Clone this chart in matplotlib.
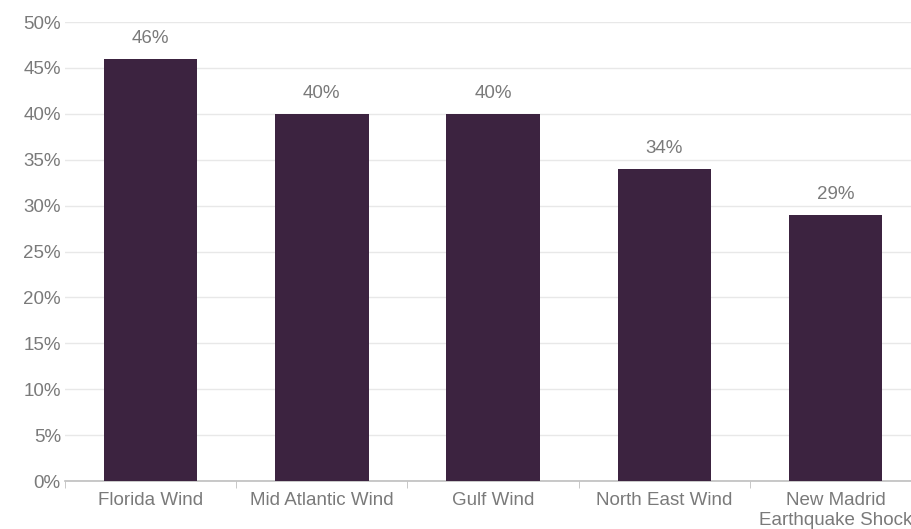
import matplotlib.pyplot as plt
import numpy as np

# Data
categories = ["Florida Wind", "Mid Atlantic Wind", "Gulf Wind", "North East Wind",
              "New Madrid\nEarthquake Shock"]
values = [0.46, 0.40, 0.40, 0.34, 0.29]
value_labels = ["46%", "40%", "40%", "34%", "29%"]
yticks = [0, 0.05, 0.10, 0.15, 0.20, 0.25, 0.30, 0.35, 0.40, 0.45, 0.50]

plt.rcParams['font.family'] = ['Liberation Sans', 'DejaVu Sans']
txt_color = '#7a7a7a'
fs = 13.5

fig = plt.figure(figsize=(9.12, 5.29), dpi=100)
ax = fig.add_axes([0.0713, 0.0907, 0.9387, 0.8677])

x = np.arange(len(categories))
ax.bar(x, values, width=0.545, color='#3c2340', zorder=3)

for xi, v, lab in zip(x, values, value_labels):
    ax.text(xi, v + 0.013, lab, ha='center', va='bottom', fontsize=fs, color=txt_color)

ax.set_xlim(-0.5, len(categories) - 0.5)
ax.set_ylim(0, 0.5)
ax.set_yticks(yticks)
ax.set_yticklabels([f"{int(round(t*100))}%" for t in yticks], fontsize=fs, color=txt_color)
ax.yaxis.grid(True, color='#e8e8e8', linewidth=1, zorder=0)
ax.tick_params(axis='y', length=0, pad=3)

ax.set_xticks(x)
ax.set_xticklabels(categories, fontsize=fs, color=txt_color, linespacing=1.25)
ax.set_xticks(np.arange(-0.5, len(categories), 1), minor=True)
ax.tick_params(axis='x', which='major', length=0, pad=8)
ax.tick_params(axis='x', which='minor', length=5, color='#bfbfbf', direction='out')

for s in ['top', 'right', 'left']:
    ax.spines[s].set_visible(False)
ax.spines['bottom'].set_color('#bfbfbf')
ax.spines['bottom'].set_linewidth(1.2)

fig.savefig('out.png', dpi=100)
